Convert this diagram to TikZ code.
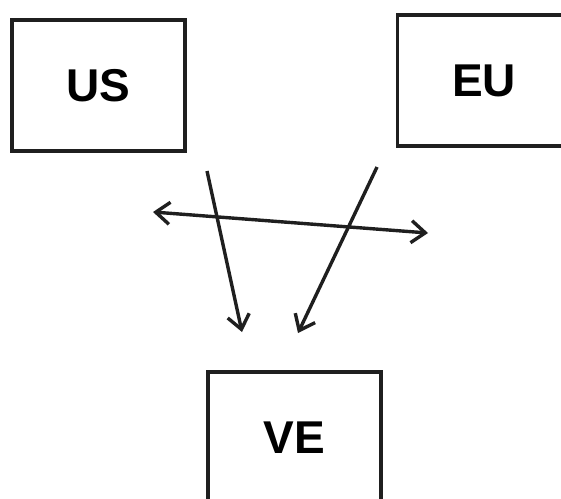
\documentclass[tikz,border=0pt]{standalone}
\usepackage{fontspec}
\setmainfont{Liberation Sans}
\usetikzlibrary{arrows.meta}
\begin{document}
\begin{tikzpicture}[x=1pt,y=-1pt,
  region/.style={draw=black!88, line width=3.3pt, minimum width=173pt,
    minimum height=131pt, inner sep=0pt, font=\bfseries\fontsize{46}{50}\selectfont},
  barb/.tip={Straight Barb[length=14pt,width=22pt,line width=3.4pt]},
  flow/.style={draw=black!88, line width=3.4pt, -barb},
  both/.style={draw=black!88, line width=3.4pt, barb-barb}]
\useasboundingbox (0,0) rectangle (561,498);
\clip (0,0) rectangle (561,498);
% the three regions
\node[region] (us) at (98.5,85.5) {US};
\node[region] (eu) at (484,80.5) {EU};
\node[region] (ve) at (294.5,437.5) {VE};
% free ends of the connectors
\coordinate (usout) at (207,171);
\coordinate (usin) at (242,332);
\coordinate (euout) at (377,167);
\coordinate (euin) at (298,333);
\coordinate (left) at (153,212);
\coordinate (right) at (428,233);
% flows towards VE and the exchange between US and EU
\draw[flow] (usout) -- (usin);
\draw[flow] (euout) -- (euin);
\draw[both] (left) -- (right);
\end{tikzpicture}
\end{document}
